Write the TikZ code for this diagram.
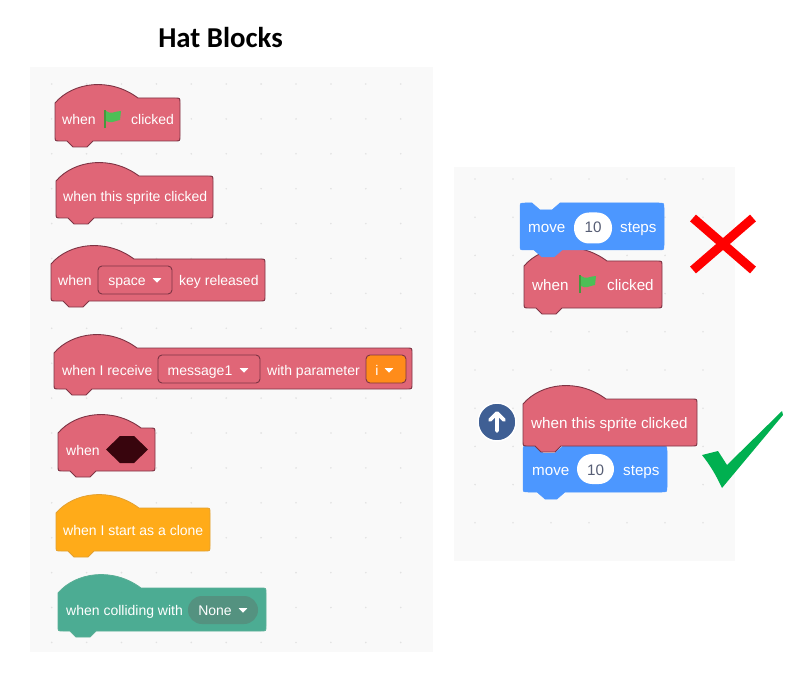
\documentclass[tikz,border=0pt]{standalone}
\usepackage{fontspec}
\setmainfont{Liberation Sans}
\newfontfamily\titlefont{Carlito}
\definecolor{hat-panel}{RGB}{249,249,249}
\definecolor{hat-dot}{RGB}{226,226,226}
\definecolor{hat-red}{RGB}{224,102,119}
\definecolor{hat-rededge}{RGB}{126,52,68}
\definecolor{hat-orange}{RGB}{255,171,25}
\definecolor{hat-orangeedge}{RGB}{226,160,50}
\definecolor{hat-green}{RGB}{76,172,147}
\definecolor{hat-greenedge}{RGB}{90,175,150}
\definecolor{hat-greenpill}{RGB}{84,146,128}
\definecolor{hat-blue}{RGB}{76,151,255}
\definecolor{hat-menu}{RGB}{255,140,26}
\definecolor{hat-hex}{RGB}{56,5,13}
\definecolor{hat-flag}{RGB}{76,191,86}
\definecolor{hat-stem}{RGB}{69,153,61}
\definecolor{hat-num}{RGB}{87,94,117}
\definecolor{hat-up}{RGB}{63,95,148}
\definecolor{hat-tick}{RGB}{0,176,80}
\tikzset{
    blocktext/.style={anchor=base west, inner sep=0pt, text=white, font=\fontsize{14}{16}\selectfont},
    bigtext/.style={anchor=base west, inner sep=0pt, text=white, font=\fontsize{15.2}{17}\selectfont},
    menutext/.style={anchor=base, inner sep=0pt, text=white, font=\fontsize{14}{16}\selectfont},
    numtext/.style={anchor=base, inner sep=0pt, text=hat-num, font=\fontsize{15.2}{17}\selectfont},
    redblock/.style={fill=hat-red, draw=hat-rededge, line width=0.9pt},
    orangeblock/.style={fill=hat-orange, draw=hat-orangeedge, line width=0.8pt},
    greenblock/.style={fill=hat-green, draw=hat-greenedge, line width=0.8pt},
    blueblock/.style={fill=hat-blue, draw=hat-blue, line width=0.5pt},
    redmenu/.style={fill=hat-red, draw=hat-rededge, line width=0.9pt, rounded corners=4pt},
    orangemenu/.style={fill=hat-menu, draw=hat-rededge, line width=0.9pt, rounded corners=4pt},
}
\newcommand{\hatblock}[5]{
    \path[#1] (#2,{#3+5}) .. controls ({#2+18},{#3-16}) and ({#2+55},{#3-21}) .. ({#2+83},#3)
        -- ({#2+#4-5},#3) .. controls ({#2+#4},#3) .. ({#2+#4},{#3+5})
        -- ({#2+#4},{#3+#5-5}) .. controls ({#2+#4},{#3+#5}) .. ({#2+#4-5},{#3+#5})
        -- ({#2+38},{#3+#5}) -- ({#2+32},{#3+#5+6}) -- ({#2+18},{#3+#5+6}) -- ({#2+12},{#3+#5})
        -- ({#2+5},{#3+#5}) .. controls (#2,{#3+#5}) .. (#2,{#3+#5-5}) -- cycle;
}
\newcommand{\moveblock}[4]{
    \path[blueblock] (#1,{#2+5}) .. controls (#1,#2) .. ({#1+5},#2)
        -- ({#1+12},#2) -- ({#1+20},{#2+7}) -- ({#1+32},{#2+7}) -- ({#1+40},#2)
        -- ({#1+#3-5},#2) .. controls ({#1+#3},#2) .. ({#1+#3},{#2+5})
        -- ({#1+#3},{#2+#4-5}) .. controls ({#1+#3},{#2+#4}) .. ({#1+#3-5},{#2+#4})
        -- ({#1+42},{#2+#4}) -- ({#1+34},{#2+#4+7}) -- ({#1+22},{#2+#4+7}) -- ({#1+14},{#2+#4})
        -- ({#1+5},{#2+#4}) .. controls (#1,{#2+#4}) .. (#1,{#2+#4-5}) -- cycle;
}
\newcommand{\menutri}[2]{
    \fill[white, rounded corners=0.6pt] ({#1-4.5},{#2-2}) -- ({#1+4.5},{#2-2}) -- (#1,{#2+2.8}) -- cycle;
}
\newcommand{\greenflag}[2]{
    \fill[hat-stem] ({#1+1},#2) rectangle ({#1+3},{#2+18});
    \fill[hat-flag] ({#1+3},{#2+1}) .. controls ({#1+8},{#2+5}) and ({#1+12},{#2+1}) .. ({#1+18},{#2+1})
        -- ({#1+17},{#2+10}) .. controls ({#1+11},{#2+11}) and ({#1+8},{#2+14}) .. ({#1+3},{#2+11}) -- cycle;
}
\begin{document}
\begin{tikzpicture}[x=1pt, y=-1pt]
    \useasboundingbox (0,0) rectangle (806,679);

    \fill[hat-panel] (30,67) rectangle (433,652);
    \fill[hat-panel] (454,167) rectangle (735,561);
    \foreach \px in {0,...,10} \foreach \py in {0,...,16}
        \fill[hat-dot] ({51.7+34.9*\px},{84+34.9*\py}) circle (0.9);
    \foreach \px in {0,...,6} \foreach \py in {0,...,9}
        \fill[hat-dot] ({475+38*\px},{179+38.2*\py}) circle (0.9);

    \node[inner sep=0pt, font=\titlefont\bfseries\fontsize{28.8}{30}\selectfont] (title) at (220.5,38) {Hat Blocks};

    \hatblock{redblock}{55}{98}{125}{43}
    \node[blocktext] (whenA) at (62,125) {when};
    \greenflag{103}{110}
    \node[blocktext] (clickedA) at (131,125) {clicked};

    \hatblock{redblock}{56}{176}{157}{42}
    \node[blocktext] (spriteA) at (63,202) {when this sprite clicked};

    \hatblock{redblock}{51}{259}{214}{42}
    \node[blocktext] (whenB) at (58,285) {when};
    \draw[redmenu] (98,266) rectangle (172,294);
    \node[menutext] (space) at (127,285) {space};
    \menutri{157}{280}
    \node[blocktext] (keyrel) at (179,285) {key released};

    \hatblock{redblock}{54}{348}{358}{41}
    \node[blocktext] (receive) at (62,375) {when I receive};
    \draw[redmenu] (158,355) rectangle (260,383);
    \node[menutext] (message) at (200,375) {message1};
    \menutri{244}{370}
    \node[blocktext] (withpar) at (267,375) {with parameter};
    \draw[orangemenu] (366,355) rectangle (406,383);
    \node[menutext] (param) at (377,375) {i};
    \menutri{389}{370}

    \hatblock{redblock}{58}{428}{97}{43}
    \node[blocktext] (whenC) at (66,455) {when};
    \fill[hat-hex] (106,449.5) -- (120,436) -- (134,436) -- (148,449.5) -- (134,463) -- (120,463) -- cycle;

    \hatblock{orangeblock}{56}{508}{154}{43}
    \node[blocktext] (clone) at (63,535) {when I start as a clone};

    \hatblock{greenblock}{58}{588}{208}{43}
    \node[blocktext] (colliding) at (66,615) {when colliding with};
    \fill[hat-greenpill] (188,596) [rounded corners=14pt] rectangle (258,624);
    \node[menutext] (none) at (215,615) {None};
    \menutri{243}{610}

    \hatblock{redblock}{524}{261}{138}{47}
    \node[bigtext] (whenD) at (532,290) {when};
    \greenflag{578}{275}
    \node[bigtext] (clickedB) at (607,290) {clicked};
    \moveblock{520}{203}{144}{47}
    \node[bigtext] (moveA) at (528,233) {move};
    \node[fill=white, rounded corners=15pt, minimum width=38pt, minimum height=31pt, inner sep=0pt] (pillA) at (593,228) {};
    \node[numtext] (numA) at (593,233) {10};
    \node[bigtext] (stepsA) at (620,233) {steps};

    \draw[red, line width=9pt] (693,218) -- (753,270);
    \draw[red, line width=9pt] (753,218) -- (693,270);

    \node[circle, fill=hat-up, draw=white, line width=1.5pt, minimum size=38pt, inner sep=0pt] (upbtn) at (497,422) {};
    \draw[white, line width=3.6pt, line cap=round, line join=round] (497,431) -- (497,414) (490,420) -- (497,413) -- (504,420);

    \moveblock{523}{446}{144}{46}
    \node[bigtext] (moveB) at (532,475) {move};
    \node[fill=white, rounded corners=15pt, minimum width=37pt, minimum height=30pt, inner sep=0pt] (pillB) at (595.5,469) {};
    \node[numtext] (numB) at (595.5,475) {10};
    \node[bigtext] (stepsB) at (623,475) {steps};
    \hatblock{redblock}{523}{399}{174}{47}
    \node[bigtext] (spriteB) at (531,428) {when this sprite clicked};

    \fill[hat-tick] (702,455) -- (718,451) -- (727,465) -- (782,411) -- (783,415) -- (722,488)
        .. controls (716,475) and (710,465) .. (702,455) -- cycle;
\end{tikzpicture}
\end{document}
